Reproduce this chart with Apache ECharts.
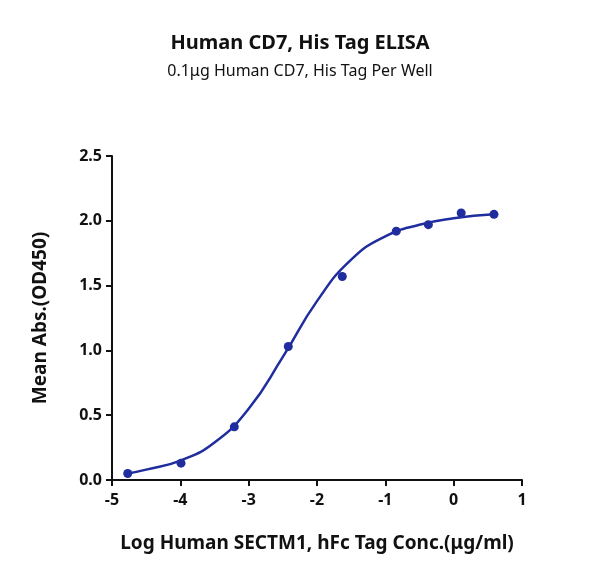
<!DOCTYPE html>
<html><head><meta charset="utf-8">
<script src="https://cdn.jsdelivr.net/npm/echarts@6/dist/echarts.min.js"></script>
<style>html,body{margin:0;padding:0;background:#fff}#c{width:600px;height:587px}</style>
</head><body><div id="c"></div>
<script>
// measured points (log conc, OD450)
var pointX = [-4.77, -3.99, -3.21, -2.42, -1.63, -0.84, -0.37, 0.11, 0.59];
var pointY = [0.05, 0.13, 0.41, 1.03, 1.57, 1.92, 1.97, 2.06, 2.05];
// fitted curve
var curveX = [-4.77, -4.5, -4.0, -3.5, -3.0, -2.5, -2.0, -1.5, -1.0, -0.5, 0.0, 0.59];
var curveY = [0.05, 0.08, 0.15, 0.29, 0.55, 0.95, 1.38, 1.70, 1.88, 1.97, 2.02, 2.05];
var blue = '#1f2d9e';

var chart = echarts.init(document.getElementById('c'));
chart.setOption({
    textStyle: { fontFamily: 'Noto Sans' },
    title: {
        text: 'Human CD7, His Tag ELISA',
        subtext: '0.1μg Human CD7, His Tag Per Well',
        left: 'center', top: 28, itemGap: 10,
        textStyle: { fontSize: 20, fontWeight: 'bold', color: '#111' },
        subtextStyle: { fontSize: 16, color: '#111' }
    },
    grid: { left: 112, right: 78, top: 156, bottom: 107 },
    xAxis: {
        type: 'value', min: -5, max: 1, interval: 1,
        name: 'Log Human SECTM1, hFc Tag Conc.(μg/ml)',
        nameLocation: 'middle', nameGap: 54,
        nameTextStyle: { fontSize: 19, fontWeight: 'bold', color: '#111' },
        axisLine: { onZero: false, lineStyle: { color: '#111', width: 2 } },
        axisTick: { length: 6, lineStyle: { color: '#111', width: 2 } },
        axisLabel: { fontSize: 16, fontWeight: 'bold', color: '#111', margin: 12 },
        splitLine: { show: false }
    },
    yAxis: {
        type: 'value', min: 0, max: 2.5, interval: 0.5,
        name: 'Mean Abs.(OD450)',
        nameLocation: 'middle', nameGap: 62,
        nameTextStyle: { fontSize: 19, fontWeight: 'bold', color: '#111' },
        axisLine: { show: true, onZero: false, lineStyle: { color: '#111', width: 2 } },
        axisTick: { show: true, length: 6, lineStyle: { color: '#111', width: 2 } },
        axisLabel: { fontSize: 16, fontWeight: 'bold', color: '#111', margin: 10,
            formatter: function (v) { return v.toFixed(1); } },
        splitLine: { show: false }
    },
    series: [{
        type: 'line', smooth: 0.5, showSymbol: false,
        data: curveX.map(function (x, i) { return [x, curveY[i]]; }),
        lineStyle: { color: blue, width: 2.5 }
    }, {
        type: 'scatter', symbolSize: 9,
        data: pointX.map(function (x, i) { return [x, pointY[i]]; }),
        itemStyle: { color: blue, opacity: 1 }
    }]
});
</script></body></html>
